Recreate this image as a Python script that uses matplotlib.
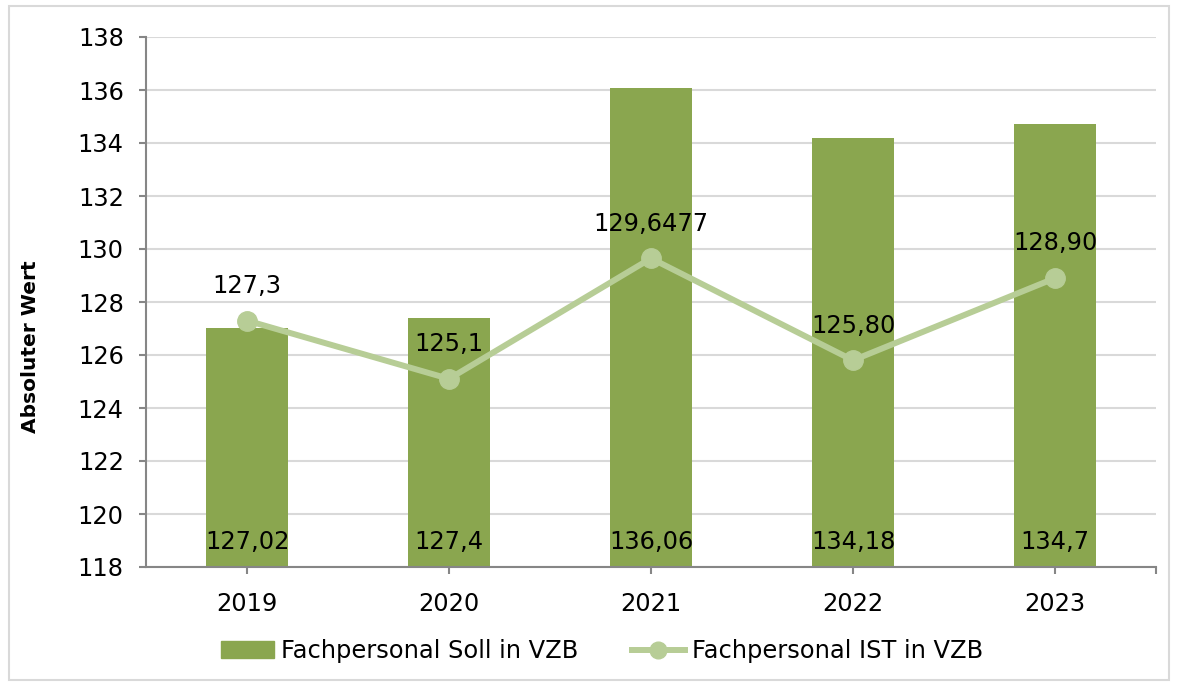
import matplotlib
matplotlib.use("Agg")
import matplotlib.pyplot as plt
from matplotlib.patches import Rectangle
from matplotlib.lines import Line2D

years = ["2019", "2020", "2021", "2022", "2023"]
soll = [127.02, 127.4, 136.06, 134.18, 134.7]
soll_labels = ["127,02", "127,4", "136,06", "134,18", "134,7"]
ist = [127.3, 125.1, 129.6477, 125.80, 128.90]
ist_labels = ["127,3", "125,1", "129,6477", "125,80", "128,90"]
yticks = [118, 120, 122, 124, 126, 128, 130, 132, 134, 136, 138]

bar_color = "#8aa64f"
line_color = "#b7cd96"
grid_color = "#d9d9d9"
axis_color = "#868686"
fs = 17.4

plt.rcParams['font.family'] = ['DejaVu Sans']

fig = plt.figure(figsize=(11.78, 6.86), dpi=100)
fig.patches.append(Rectangle((9/1178, 6/686), 1160/1178, 674/686, transform=fig.transFigure,
                             fill=False, edgecolor="#d9d9d9", linewidth=1.5))
ax = fig.add_axes([146/1178, 1-567/686, (1156-146)/1178, (567-37)/686])

x = list(range(len(years)))
ax.bar(x, [v - 118 for v in soll], bottom=118, width=0.405, color=bar_color, zorder=2,
       label="Fachpersonal Soll in VZB")
ax.plot(x, ist, color=line_color, linewidth=4.3, marker="o", markersize=14,
        zorder=3, label="Fachpersonal IST in VZB", solid_capstyle="round")

for xi, lab in zip(x, soll_labels):
    ax.annotate(lab, (xi, 118), xytext=(0, 18), textcoords="offset points",
                ha="center", va="center", fontsize=fs, color="black", zorder=4)
for xi, yi, lab in zip(x, ist, ist_labels):
    ax.annotate(lab, (xi, yi), xytext=(0, 25), textcoords="offset points",
                ha="center", va="center", fontsize=fs, color="black", zorder=4)

ax.set_xlim(-0.5, 4.5)
ax.set_ylim(118, 138)
ax.set_yticks(yticks)
ax.set_yticklabels([str(t) for t in yticks], fontsize=fs)
ax.set_xticks(x + [4.5])
ax.set_xticklabels(years + [""], fontsize=fs)
ax.tick_params(axis="x", length=5, color=axis_color, width=1.5, pad=13)
ax.tick_params(axis="y", length=5, color=axis_color, width=1.5, pad=11)
ax.yaxis.grid(True, color=grid_color, linewidth=1.5, zorder=0)
ax.set_axisbelow(True)
for s in ["top", "right"]:
    ax.spines[s].set_visible(False)
for s in ["left", "bottom"]:
    ax.spines[s].set_color(axis_color)
    ax.spines[s].set_linewidth(1.5)

ax.text(31/1178, 1-347/686, "Absoluter Wert", transform=fig.transFigure, rotation=90,
        ha="center", va="center", fontsize=14.5, fontweight="bold",
        family=["DejaVu Sans"])

handles = [Rectangle((0, 0), 1, 1, color=bar_color),
           Line2D([0], [0], color=line_color, linewidth=4.3, marker="o", markersize=12)]
fig.legend(handles, ["Fachpersonal Soll in VZB", "Fachpersonal IST in VZB"],
           loc="center", bbox_to_anchor=(602/1178, 1-651/686), ncol=2, frameon=False,
           fontsize=fs, handlelength=2.2, handletextpad=0.3, columnspacing=2.2,
           handleheight=0.7)

fig.savefig("out.png", dpi=100)
